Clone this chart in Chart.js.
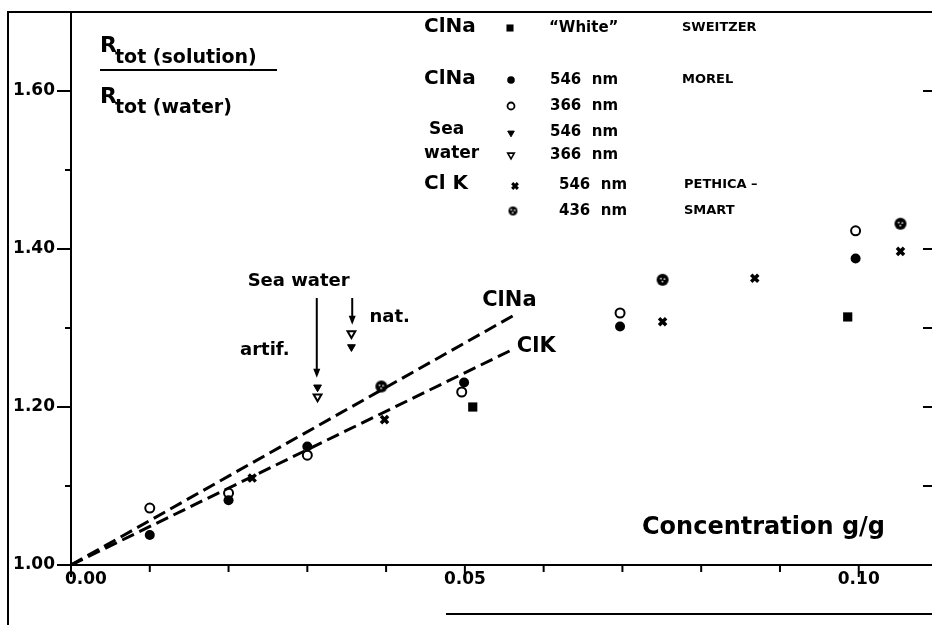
<!DOCTYPE html>
<html><head><meta charset="utf-8">
<script src="https://cdn.jsdelivr.net/npm/chart.js@4.4.1/dist/chart.umd.min.js"></script>
<style>html,body{margin:0;padding:0;background:#fff;}canvas{display:block;}</style>
</head><body>
<canvas id="c" width="932" height="625"></canvas>
<script>
// ---- data ----
const xTickValues = [0,0.01,0.02,0.03,0.04,0.05,0.06,0.07,0.08,0.09,0.10];
const xLabelValues = [0,0.05,0.10];
const xLabelTexts = ['0.00','0.05','0.10'];
const yTickValues = [1.0,1.1,1.2,1.3,1.4,1.5,1.6,1.7];
const yLabelValues = [1.0,1.2,1.4,1.6];
const yLabelTexts = ['1.00','1.20','1.40','1.60'];
const yRightTickValues = [1.1,1.2,1.3,1.4,1.6];

const sweitzerX = [0.0510, 0.0986];
const sweitzerY = [1.200, 1.314];
const morel546X = [0.0100, 0.0200, 0.0300, 0.0499, 0.0697, 0.0996];
const morel546Y = [1.038, 1.082, 1.150, 1.231, 1.302, 1.388];
const morel366X = [0.0100, 0.0200, 0.0300, 0.0496, 0.0697, 0.0996];
const morel366Y = [1.072, 1.091, 1.139, 1.219, 1.319, 1.423];
const sea546X = [0.0313, 0.0356];
const sea546Y = [1.225, 1.276];
const sea366X = [0.0313, 0.0356];
const sea366Y = [1.213, 1.293];
const clk546X = [0.0230, 0.0398, 0.0751, 0.0868, 0.1053];
const clk546Y = [1.110, 1.184, 1.308, 1.363, 1.397];
const clk436X = [0.0394, 0.0751, 0.1053];
const clk436Y = [1.226, 1.361, 1.432];
const lineClNaX = [0, 0.0562];
const lineClNaY = [1.000, 1.316];
const lineClKX = [0, 0.0559];
const lineClKY = [1.000, 1.272];
const arrowX = [0.0312, 0.0357];
const arrowTopY = [1.338, 1.338];
const arrowBottomY = [1.237, 1.304];

const pts = (xs, ys) => xs.map((x, i) => ({x, y: ys[i]}));
const FONT = 'DejaVu Sans';

function dottedCircle(r) {
  const s = Math.ceil(r * 2 + 2);
  const c = document.createElement('canvas');
  c.width = s; c.height = s;
  const g = c.getContext('2d');
  g.fillStyle = '#000';
  g.beginPath(); g.arc(s/2, s/2, r, 0, Math.PI*2); g.fill();
  g.fillStyle = '#fff';
  g.fillRect(s/2 - 2.5, s/2 - 2, 1.5, 1.5);
  g.fillRect(s/2 + 1, s/2 - 1.5, 1.5, 1.5);
  g.fillRect(s/2 - 1, s/2 + 1, 1.5, 1.5);
  return c;
}
const dot436 = dottedCircle(6);
const dot436small = dottedCircle(4.5);

const datasets = [
  {label:'ClNa', type:'line', data: pts(lineClNaX, lineClNaY), borderColor:'#000', borderWidth:3, borderDash:[13,6], pointRadius:0, fill:false, showLine:true},
  {label:'ClK', type:'line', data: pts(lineClKX, lineClKY), borderColor:'#000', borderWidth:3, borderDash:[13,6], pointRadius:0, fill:false, showLine:true},
  {label:'SWEITZER White', data: pts(sweitzerX, sweitzerY), pointStyle:'rect', pointRadius:6.5, backgroundColor:'#000', borderColor:'#000', borderWidth:0},
  {label:'MOREL 546 nm', data: pts(morel546X, morel546Y), pointStyle:'circle', pointRadius:5, backgroundColor:'#000', borderColor:'#000', borderWidth:0},
  {label:'MOREL 366 nm', data: pts(morel366X, morel366Y), pointStyle:'circle', pointRadius:4.5, backgroundColor:'#fff', borderColor:'#000', borderWidth:2},
  {label:'Sea water 546 nm', data: pts(sea546X, sea546Y), pointStyle:'triangle', rotation:180, pointRadius:4.5, backgroundColor:'#000', borderColor:'#000', borderWidth:1},
  {label:'Sea water 366 nm', data: pts(sea366X, sea366Y), pointStyle:'triangle', rotation:180, pointRadius:4.5, backgroundColor:'#fff', borderColor:'#000', borderWidth:2},
  {label:'ClK 546 nm', data: pts(clk546X, clk546Y), pointStyle:'crossRot', pointRadius:5, backgroundColor:'#000', borderColor:'#000', borderWidth:3.5},
  {label:'ClK 436 nm', data: pts(clk436X, clk436Y), pointStyle: dot436, pointRadius:6, backgroundColor:'#000', borderColor:'#000', borderWidth:0}
];

function mark(ctx, style, x, y, r, fill, bw, rot) {
  ctx.save();
  ctx.fillStyle = fill; ctx.strokeStyle = '#000'; ctx.lineWidth = bw;
  if (style instanceof HTMLCanvasElement) {
    ctx.drawImage(style, x - style.width/2, y - style.height/2);
  } else {
    Chart.helpers.drawPoint(ctx, {pointStyle: style, radius: r, borderWidth: bw, rotation: rot || 0}, x, y);
  }
  ctx.restore();
}

const deco = {
  id: 'deco',
  afterDraw(chart) {
    const ctx = chart.ctx, xs = chart.scales.x, ys = chart.scales.y, a = chart.chartArea;
    ctx.save();
    ctx.strokeStyle = '#000'; ctx.fillStyle = '#000';
    // outer frame
    ctx.lineWidth = 2;
    ctx.beginPath(); ctx.moveTo(8, 625); ctx.lineTo(8, 12); ctx.lineTo(932, 12); ctx.stroke();
    ctx.beginPath(); ctx.moveTo(446, 614); ctx.lineTo(932, 614); ctx.stroke();
    // x ticks + labels
    xTickValues.forEach(v => {
      const px = xs.getPixelForValue(v);
      const major = xLabelValues.includes(v);
      ctx.beginPath(); ctx.moveTo(px, a.bottom); ctx.lineTo(px, a.bottom + (major ? 12 : 7)); ctx.stroke();
    });
    ctx.font = 'bold 17px "' + FONT + '"';
    ctx.textBaseline = 'middle';
    xLabelValues.forEach((v, i) => {
      const px = xs.getPixelForValue(v);
      ctx.textAlign = i === 0 ? 'left' : 'center';
      ctx.fillText(xLabelTexts[i], i === 0 ? px - 6 : px, 580);
    });
    // y ticks left and right, and labels
    ctx.font = 'bold 17px "' + FONT + '"';
    ctx.textAlign = 'right';
    yTickValues.forEach(v => {
      const py = ys.getPixelForValue(v);
      const li = yLabelValues.findIndex(l => Math.abs(l - v) < 1e-9);
      const major = li >= 0;
      ctx.beginPath(); ctx.moveTo(a.left, py); ctx.lineTo(a.left - (major ? 14 : 6), py); ctx.stroke();
      if (major) ctx.fillText(yLabelTexts[li], 55, py);
    });
    yRightTickValues.forEach(v => {
      const py = ys.getPixelForValue(v);
      ctx.beginPath(); ctx.moveTo(a.right, py); ctx.lineTo(a.right - 9, py); ctx.stroke();
    });
    // ratio label
    ctx.textAlign = 'left'; ctx.textBaseline = 'alphabetic';
    ctx.font = 'bold 22px "' + FONT + '"';
    ctx.fillText('R', 100, 52);
    ctx.fillText('R', 100, 103);
    ctx.font = 'bold 19px "' + FONT + '"';
    ctx.fillText('tot (solution)', 115, 63);
    ctx.fillText('tot (water)', 115, 113);
    ctx.beginPath(); ctx.moveTo(100, 70); ctx.lineTo(277, 70); ctx.stroke();
    // axis title
    ctx.font = 'bold 24px "' + FONT + '"';
    ctx.textBaseline = 'middle';
    ctx.fillText('Concentration g/g', 642, 528);
    // arrows
    ctx.lineWidth = 2;
    arrowX.forEach((x, i) => {
      const px = xs.getPixelForValue(x);
      const t = ys.getPixelForValue(arrowTopY[i]);
      const b = ys.getPixelForValue(arrowBottomY[i]);
      ctx.beginPath(); ctx.moveTo(px, t); ctx.lineTo(px, b - 6); ctx.stroke();
      ctx.beginPath(); ctx.moveTo(px - 3.5, b - 9); ctx.lineTo(px + 3.5, b - 9); ctx.lineTo(px, b); ctx.closePath(); ctx.fill();
    });
    // annotations
    ctx.font = 'bold 18px "' + FONT + '"';
    ctx.textAlign = 'center';
    ctx.fillText('Sea water', xs.getPixelForValue(0.0289), ys.getPixelForValue(1.359));
    ctx.fillText('artif.', xs.getPixelForValue(0.0246), ys.getPixelForValue(1.272));
    ctx.textAlign = 'left';
    ctx.fillText('nat.', xs.getPixelForValue(0.0379), ys.getPixelForValue(1.314));
    ctx.font = 'bold 21px "' + FONT + '"';
    ctx.fillText('ClNa', xs.getPixelForValue(0.0522), ys.getPixelForValue(1.335));
    ctx.fillText('ClK', xs.getPixelForValue(0.0566), ys.getPixelForValue(1.276));
    // legend block
    ctx.textBaseline = 'middle'; ctx.textAlign = 'left';
    ctx.font = 'bold 20px "' + FONT + '"';
    ctx.fillText('ClNa', 424, 27);
    ctx.fillText('ClNa', 424, 79);
    ctx.fillText('Cl K', 424, 184);
    ctx.font = 'bold 17px "' + FONT + '"';
    ctx.fillText('Sea', 429, 130);
    ctx.fillText('water', 424, 154);
    ctx.font = 'bold 15px "' + FONT + '"';
    ctx.fillText('\u201CWhite\u201D', 549, 28);
    ctx.fillText('546  nm', 550, 80);
    ctx.fillText('366  nm', 550, 106);
    ctx.fillText('546  nm', 550, 132);
    ctx.fillText('366  nm', 550, 155);
    ctx.fillText('546  nm', 559, 185);
    ctx.fillText('436  nm', 559, 211);
    ctx.font = 'bold 13px "' + FONT + '"';
    ctx.fillText('SWEITZER', 682, 28);
    ctx.fillText('MOREL', 682, 80);
    ctx.fillText('PETHICA \u2013', 684, 185);
    ctx.fillText('SMART', 684, 211);
    mark(ctx, 'rect', 510, 28, 5, '#000', 0);
    mark(ctx, 'circle', 511, 80, 3.8, '#000', 0);
    mark(ctx, 'circle', 511, 106, 3.5, '#fff', 1.8);
    mark(ctx, 'triangle', 511, 133, 3.8, '#000', 1, 180);
    mark(ctx, 'triangle', 511, 155, 3.8, '#fff', 1.6, 180);
    mark(ctx, 'crossRot', 515, 186, 4, '#000', 3);
    mark(ctx, dot436small, 513, 211);
    ctx.restore();
  }
};

new Chart(document.getElementById('c'), {
  type: 'scatter',
  data: { datasets },
  options: {
    responsive: false,
    animation: false,
    devicePixelRatio: 1,
    layout: { autoPadding: false, padding: { top: 12, left: 0, right: 0, bottom: 0 } },
    plugins: { legend: { display: false }, tooltip: { enabled: false } },
    scales: {
      x: {
        type: 'linear', min: 0, max: 0.1093,
        grid: { display: false },
        border: { display: true, color: '#000', width: 2 },
        ticks: { display: false },
        afterFit: s => { s.height = 60; }
      },
      y: {
        type: 'linear', min: 1.0, max: 1.70,
        grid: { display: false },
        border: { display: true, color: '#000', width: 2 },
        ticks: { display: false },
        afterFit: s => { s.width = 71; }
      }
    }
  },
  plugins: [deco]
});
</script>
</body></html>
